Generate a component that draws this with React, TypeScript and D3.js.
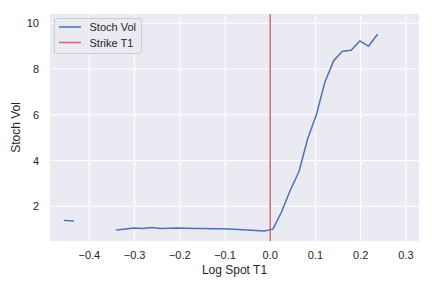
import React from 'react';
import * as d3 from 'd3';

// log spot grid (NaN where the vol is missing)
const logSpot = [
  -0.4548, -0.4356, -0.4164, -0.3972, -0.378, -0.3588,
  -0.3396, -0.3204, -0.3012, -0.282, -0.2628, -0.2436, -0.2244, -0.2052,
  -0.186, -0.1668, -0.1476, -0.1284, -0.1092, -0.09, -0.0708, -0.0516,
  -0.0324, -0.0132, 0.006, 0.0252, 0.0444, 0.0636, 0.0828, 0.102, 0.1212,
  0.1404, 0.1596, 0.1788, 0.198, 0.2172, 0.2364,
];
const stochVol = [
  1.38, 1.35, NaN, NaN, NaN, NaN,
  0.96, 1.01, 1.05, 1.03, 1.07, 1.03, 1.04, 1.05,
  1.04, 1.03, 1.03, 1.02, 1.02, 1.0, 0.98, 0.96,
  0.94, 0.92, 1.0, 1.76, 2.7, 3.52, 4.95, 6.0, 7.45,
  8.37, 8.78, 8.82, 9.23, 9.0, 9.5,
];
const strike = 0.0;
const xTicks = [-0.4, -0.3, -0.2, -0.1, 0.0, 0.1, 0.2, 0.3];
const yTicks = [2, 4, 6, 8, 10];
const legendItems = [
  { label: 'Stoch Vol', color: '#4C72B0', opacity: 1 },
  { label: 'Strike T1', color: '#C44E52', opacity: 0.8 },
];

const W = 432;
const H = 288;
const margin = { top: 14, right: 13, bottom: 47, left: 50 };

const App = () => {
  const x = d3
    .scaleLinear()
    .domain([-0.487, 0.329])
    .range([margin.left, W - margin.right]);
  const y = d3
    .scaleLinear()
    .domain([0.48, 10.41])
    .range([H - margin.bottom, margin.top]);

  const pts = logSpot.map((v, i) => [v, stochVol[i]] as [number, number]);
  const line = d3
    .line<[number, number]>()
    .defined((d) => !Number.isNaN(d[1]))
    .x((d) => x(d[0]))
    .y((d) => y(d[1]));

  const font = '"Liberation Sans", Arial, sans-serif';

  return (
    <svg
      width={W}
      height={H}
      style={{ position: 'absolute', left: 0, top: 0 }}
      fontFamily={font}
    >
      <rect width={W} height={H} fill="#fff" />
      <rect
        x={margin.left}
        y={margin.top}
        width={W - margin.left - margin.right}
        height={H - margin.top - margin.bottom}
        fill="#EAEAF2"
      />
      {xTicks.map((t) => (
        <g key={`x${t}`}>
          <line
            x1={x(t)}
            x2={x(t)}
            y1={margin.top}
            y2={H - margin.bottom}
            stroke="#fff"
            strokeWidth={1}
          />
          <text
            x={x(t)}
            y={H - margin.bottom + 18}
            textAnchor="middle"
            fontSize={11}
            fill="#262626"
          >
            {t === 0 ? '0.0' : d3.format('.1f')(t).replace('-', '\u2212')}
          </text>
        </g>
      ))}
      {yTicks.map((t) => (
        <g key={`y${t}`}>
          <line
            x1={margin.left}
            x2={W - margin.right}
            y1={y(t)}
            y2={y(t)}
            stroke="#fff"
            strokeWidth={1}
          />
          <text
            x={margin.left - 11}
            y={y(t) + 4}
            textAnchor="end"
            fontSize={11}
            fill="#262626"
          >
            {t}
          </text>
        </g>
      ))}
      <path
        d={line(pts) ?? ''}
        fill="none"
        stroke="#4C72B0"
        strokeWidth={1.5}
        strokeLinejoin="round"
        strokeLinecap="square"
      />
      <line
        x1={x(strike)}
        x2={x(strike)}
        y1={margin.top}
        y2={H - margin.bottom}
        stroke="#C44E52"
        strokeOpacity={0.8}
        strokeWidth={1.5}
      />
      <g transform="translate(54.5 18.5)">
        <rect
          width={87}
          height={35}
          rx={2.5}
          fill="#EAEAF2"
          fillOpacity={0.8}
          stroke="#cccccc"
          strokeWidth={1}
        />
        {legendItems.map((item, i) => (
          <g key={item.label} transform={`translate(0 ${8.5 + i * 15.5})`}>
            <line
              x1={4.5}
              x2={26.5}
              y1={0}
              y2={0}
              stroke={item.color}
              strokeOpacity={item.opacity}
              strokeWidth={1.5}
            />
            <text x={35} y={4} fontSize={11} fill="#262626">
              {item.label}
            </text>
          </g>
        ))}
      </g>
      <text
        x={(margin.left + W - margin.right) / 2}
        y={H - 14}
        textAnchor="middle"
        fontSize={12}
        fill="#262626"
      >
        Log Spot T1
      </text>
      <text
        transform={`translate(20 ${(margin.top + H - margin.bottom) / 2}) rotate(-90)`}
        textAnchor="middle"
        fontSize={12}
        fill="#262626"
      >
        Stoch Vol
      </text>
    </svg>
  );
};

export default App;
